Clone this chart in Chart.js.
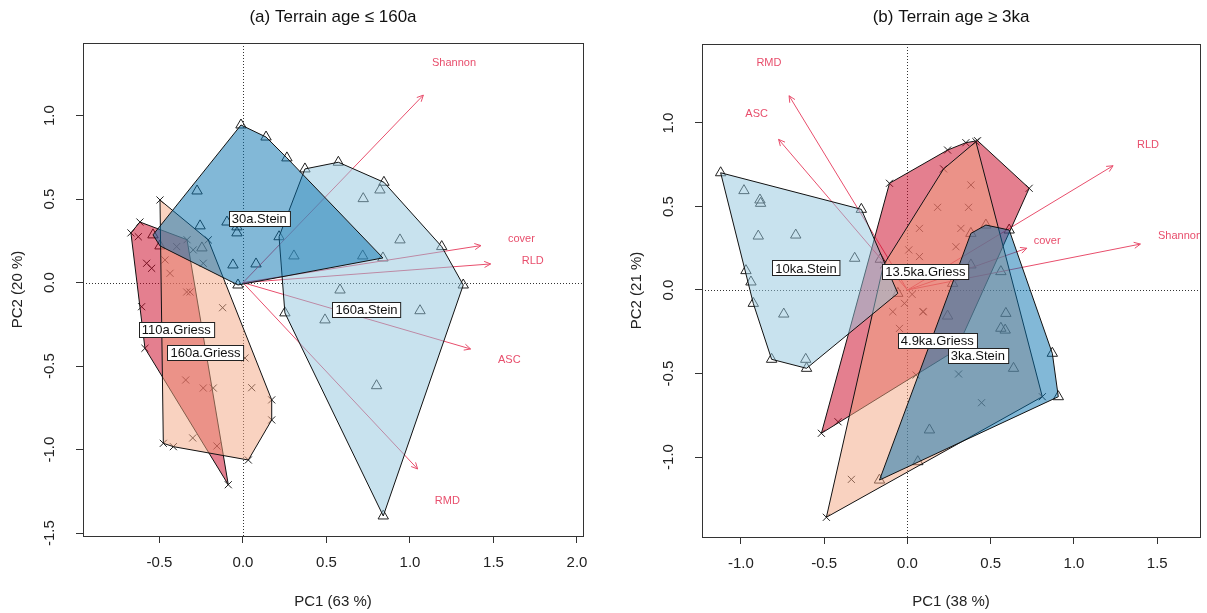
<!DOCTYPE html>
<html>
<head>
<meta charset="utf-8">
<script src="https://cdn.jsdelivr.net/npm/chart.js@4.4.1/dist/chart.umd.min.js"></script>
<style>
  body { margin: 0; background: #fff; width: 1207px; height: 613px; position: relative; overflow: hidden; }
  .panel { position: absolute; top: 0; height: 613px; }
</style>
</head>
<body>
<div class="panel" style="left:0;width:600px"><canvas id="panelA"></canvas></div>
<div class="panel" style="left:600px;width:607px"><canvas id="panelB"></canvas></div>
<script>
// ---- panel (a): terrain age <= 160a ----
const xTicksA = [-0.5, 0, 0.5, 1, 1.5, 2];
const yTicksA = [-1.5, -1, -0.5, 0, 0.5, 1];
const groupsA = ["110a.Griess", "160a.Griess", "160a.Stein", "30a.Stein"];
const a110Griess = [[-0.671, 0.298], [-0.617, 0.363], [-0.335, 0.257], [-0.088, -1.21], [-0.587, -0.393],
  [-0.607, -0.144], [-0.627, 0.275], [-0.577, 0.116], [-0.547, 0.086], [-0.397, 0.216], [-0.156, -0.978],
  [-0.343, -0.583]];
const a160Griess = [[-0.497, 0.495], [-0.208, 0.256], [0.172, -0.702], [0.172, -0.822], [0.032, -1.062],
  [-0.417, -0.982], [-0.477, -0.962], [-0.122, -0.15], [0.012, -0.451], [0.052, -0.629], [-0.178, -0.631],
  [-0.238, -0.631], [-0.317, -0.056], [-0.298, 0.196], [-0.238, 0.116], [-0.437, 0.056], [-0.467, 0.136],
  [-0.301, -0.93], [-0.337, -0.056]];
const a160Stein = [[0.371, 0.681], [0.571, 0.721], [0.844, 0.601], [1.19, 0.216], [1.319, -0.014],
  [0.84, -1.397], [0.251, -0.181], [0.216, 0.275], [0.82, 0.555], [0.72, 0.503], [0.94, 0.256],
  [0.717, 0.16], [0.581, -0.044], [1.06, -0.168], [0.491, -0.223], [0.8, -0.617]];
const a30Stein = [[-0.012, 0.944], [0.138, 0.872], [0.263, 0.747], [0.838, 0.148], [-0.03, -0.014],
  [-0.497, 0.22], [-0.539, 0.286], [-0.275, 0.549], [-0.257, 0.34], [-0.246, 0.208], [-0.096, 0.363],
  [-0.036, 0.334], [-0.036, 0.298], [-0.06, 0.106], [0.078, 0.112], [0.305, 0.16]];
const varsA = ["Shannon", "cover", "RLD", "ASC", "RMD"];
const loadXA = [1.08, 1.425, 1.483, 1.363, 1.046];
const loadYA = [1.123, 0.222, 0.112, -0.397, -1.116];

// ---- panel (b): terrain age >= 3ka ----
const xTicksB = [-1, -0.5, 0, 0.5, 1, 1.5];
const yTicksB = [-1, -0.5, 0, 0.5, 1];
const groupsB = ["13.5ka.Griess", "4.9ka.Griess", "10ka.Stein", "3ka.Stein"];
const b135Griess = [[-0.517, -0.858], [-0.108, 0.639], [0.241, 0.838], [0.351, 0.882], [0.421, 0.894],
  [0.731, 0.609], [0.293, -0.359], [0.381, 0.629], [0.181, 0.495], [0.367, 0.495], [0.072, 0.369],
  [0.321, 0.369], [0.008, 0.24], [-0.088, -0.13], [-0.417, -0.789], [0.092, -0.13], [-0.048, -0.23]];
const b49Griess = [[-0.487, -1.361], [-0.144, 0.15], [0.217, 0.725], [0.411, 0.888], [0.81, -0.639],
  [0.072, 0.2], [-0.018, -0.08], [0.028, -0.026], [0.096, -0.13], [-0.337, -1.134], [0.052, -0.509],
  [0.307, -0.503], [0.445, -0.675], [0.291, 0.259]];
const b10Stein = [[-1.122, 0.702], [-0.277, 0.483], [-0.163, 0.184], [-0.058, -0.02], [-0.606, -0.469],
  [-0.816, -0.415], [-0.982, 0.595], [-0.886, 0.539], [-0.882, 0.519], [-0.896, 0.323], [-0.671, 0.329],
  [-0.317, 0.19], [-0.97, 0.116], [-0.94, 0.048], [-0.926, -0.08], [-0.743, -0.144], [-0.611, -0.415]];
const b3Stein = [[-0.168, -1.138], [0.906, -0.639], [0.87, -0.379], [0.611, 0.359], [0.471, 0.389],
  [0.381, 0.339], [0.241, -0.156], [0.591, -0.14], [0.561, -0.229], [0.587, -0.24], [0.637, -0.469],
  [0.132, -0.838], [0.062, -1.028], [0.271, 0.04], [0.381, 0.15], [0.561, 0.11]];
const varsB = ["RMD", "ASC", "RLD", "cover", "Shannon"];
const loadXB = [-0.711, -0.774, 1.235, 0.717, 1.399];
const loadYB = [1.163, 0.902, 0.744, 0.25, 0.275];

const FONT = '"Liberation Sans", Arial, sans-serif';
const ARROW = "rgb(232,78,108)";
const LABEL_MULT = 1.17;   // where the variable names sit, relative to arrow tips
const fills = ["rgba(202,0,32,0.5)", "rgba(244,165,130,0.5)", "rgba(146,197,222,0.5)", "rgba(5,113,176,0.5)"];
const markers = ["crossRot", "crossRot", "triangle", "triangle"];

// convex hull (monotone chain), like ordihull
function hull(pts) {
  const p = pts.slice().sort((a, b) => a[0] - b[0] || a[1] - b[1]);
  const cross = (o, a, b) => (a[0] - o[0]) * (b[1] - o[1]) - (a[1] - o[1]) * (b[0] - o[0]);
  const lo = [], up = [];
  for (const q of p) {
    while (lo.length >= 2 && cross(lo[lo.length - 2], lo[lo.length - 1], q) <= 0) lo.pop();
    lo.push(q);
  }
  for (const q of p.slice().reverse()) {
    while (up.length >= 2 && cross(up[up.length - 2], up[up.length - 1], q) <= 0) up.pop();
    up.push(q);
  }
  lo.pop(); up.pop();
  return lo.concat(up);
}

// polygon centroid, used for the group labels
function centroid(poly) {
  let a = 0, cx = 0, cy = 0;
  for (let i = 0; i < poly.length; i++) {
    const [x0, y0] = poly[i], [x1, y1] = poly[(i + 1) % poly.length];
    const f = x0 * y1 - x1 * y0;
    a += f; cx += (x0 + x1) * f; cy += (y0 + y1) * f;
  }
  return [cx / (3 * a), cy / (3 * a)];
}

const rPlot = {
  id: "rplot",
  beforeDatasetsDraw(chart, args, o) {
    const { ctx, chartArea: a, scales: { x, y } } = chart;
    ctx.save();
    ctx.beginPath(); ctx.rect(a.left, a.top, a.width, a.height); ctx.clip();
    // dotted zero lines
    ctx.strokeStyle = "#333"; ctx.lineWidth = 1; ctx.setLineDash([1, 2]);
    const x0 = Math.round(x.getPixelForValue(0)) + 0.5, y0 = Math.round(y.getPixelForValue(0)) + 0.5;
    ctx.beginPath();
    ctx.moveTo(x0, a.top); ctx.lineTo(x0, a.bottom);
    ctx.moveTo(a.left, y0); ctx.lineTo(a.right, y0);
    ctx.stroke();
    ctx.setLineDash([]);
    // arrow heads and variable names
    ctx.strokeStyle = ARROW; ctx.fillStyle = ARROW;
    ctx.font = "11px " + FONT; ctx.textAlign = "center"; ctx.textBaseline = "middle";
    o.vars.forEach((name, i) => {
      const px = x.getPixelForValue(o.loadX[i]), py = y.getPixelForValue(o.loadY[i]);
      const ang = Math.atan2(py - y.getPixelForValue(0), px - x.getPixelForValue(0));
      const len = 7;
      ctx.beginPath();
      ctx.moveTo(px - len * Math.cos(ang - 0.45), py - len * Math.sin(ang - 0.45));
      ctx.lineTo(px, py);
      ctx.lineTo(px - len * Math.cos(ang + 0.45), py - len * Math.sin(ang + 0.45));
      ctx.stroke();
      ctx.fillText(name, x.getPixelForValue(o.loadX[i] * LABEL_MULT), y.getPixelForValue(o.loadY[i] * LABEL_MULT));
    });
    ctx.restore();
  },
  afterDatasetsDraw(chart, args, o) {
    const { ctx, scales: { x, y } } = chart;
    ctx.save();
    ctx.font = "13px " + FONT; ctx.textAlign = "center"; ctx.textBaseline = "middle";
    o.groups.forEach((name, i) => {
      const [cx, cy] = centroid(hull(o.points[i]));
      const px = x.getPixelForValue(cx), py = y.getPixelForValue(cy);
      const w = ctx.measureText(name).width + 6, h = 15;
      ctx.fillStyle = "#fff";
      ctx.fillRect(Math.round(px - w / 2) + 0.5, Math.round(py - h / 2) + 0.5, w, h);
      ctx.strokeStyle = "#222"; ctx.lineWidth = 1;
      ctx.strokeRect(Math.round(px - w / 2) + 0.5, Math.round(py - h / 2) + 0.5, w, h);
      ctx.fillStyle = "#111";
      ctx.fillText(name, px, py + 1);
    });
    ctx.restore();
  },
  afterDraw(chart, args, o) {
    const { ctx, chartArea: a, scales: { y } } = chart;
    ctx.save();
    ctx.strokeStyle = "#333"; ctx.lineWidth = 1;
    ctx.strokeRect(Math.round(a.left) + 0.5, Math.round(a.top) + 0.5, Math.round(a.width), Math.round(a.height));
    ctx.fillStyle = "#111"; ctx.textAlign = "center"; ctx.textBaseline = "middle";
    ctx.font = "17px " + FONT;
    ctx.fillText(o.title, (a.left + a.right) / 2, 17);
    // y tick labels, turned like R's las = 0
    ctx.font = "15px " + FONT; ctx.fillStyle = "#222";
    y.ticks.forEach(t => {
      ctx.save();
      ctx.translate(a.left - 33, y.getPixelForValue(t.value));
      ctx.rotate(-Math.PI / 2);
      ctx.fillText(t.value.toFixed(1), 0, 0);
      ctx.restore();
    });
    ctx.restore();
  }
};

function makePanel(id, p) {
  const datasets = [];
  p.groups.forEach((name, i) => {
    const pts = p.points[i];
    datasets.push({
      type: "scatter",
      data: pts.map(([x, y]) => ({ x, y })),
      pointStyle: markers[i],
      pointRadius: markers[i] === "triangle" ? 6 : 5,
      pointBorderColor: "#222",
      pointBackgroundColor: "rgba(0,0,0,0)",
      pointBorderWidth: 1,
      order: 10
    });
    const h = hull(pts);
    h.push(h[0]);
    datasets.push({
      type: "line",
      data: h.map(([x, y]) => ({ x, y })),
      borderColor: "#111",
      borderWidth: 1,
      backgroundColor: fills[i],
      fill: "shape",
      pointRadius: 0,
      tension: 0,
      order: 4 - i
    });
  });
  p.vars.forEach((v, i) => {
    datasets.push({
      type: "line",
      data: [{ x: 0, y: 0 }, { x: p.loadX[i], y: p.loadY[i] }],
      borderColor: ARROW,
      borderWidth: 1,
      pointRadius: 0,
      order: 9
    });
  });

  new Chart(document.getElementById(id), {
    type: "scatter",
    data: { datasets },
    plugins: [rPlot],
    options: {
      responsive: true,
      maintainAspectRatio: false,
      animation: false,
      events: [],
      layout: { padding: { left: p.padLeft, right: p.padRight, top: p.padTop, bottom: 0 } },
      plugins: {
        legend: { display: false },
        tooltip: { enabled: false },
        rplot: { title: p.title, vars: p.vars, loadX: p.loadX, loadY: p.loadY, groups: p.groups, points: p.points }
      },
      scales: {
        x: {
          type: "linear", min: p.xMin, max: p.xMax,
          afterBuildTicks: s => { s.ticks = p.xTicks.map(v => ({ value: v })); },
          afterFit: s => { s.height = p.xAxisHeight; },
          border: { display: false },
          grid: { drawOnChartArea: false, drawTicks: true, tickLength: 7, tickColor: "#333", tickWidth: 1 },
          ticks: { font: { size: 15, family: FONT }, color: "#222", padding: 11, autoSkip: false,
                   maxRotation: 0, minRotation: 0, callback: v => v.toFixed(1) },
          title: { display: true, text: p.xTitle, font: { size: 15, family: FONT }, color: "#222",
                   padding: { top: 0, bottom: 2 } }
        },
        y: {
          type: "linear", min: p.yMin, max: p.yMax,
          afterBuildTicks: s => { s.ticks = p.yTicks.map(v => ({ value: v })); },
          afterFit: s => { s.width = 83; },
          border: { display: false },
          grid: { drawOnChartArea: false, drawTicks: true, tickLength: 7, tickColor: "#333", tickWidth: 1 },
          ticks: { display: false },
          title: { display: true, text: p.yTitle, font: { size: 15, family: FONT }, color: "#222",
                   padding: { top: 9, bottom: 0 } }
        }
      }
    }
  });
}

makePanel("panelA", {
  title: "(a) Terrain age \u2264 160a", xTitle: "PC1 (63 %)", yTitle: "PC2 (20 %)",
  groups: groupsA, points: [a110Griess, a160Griess, a160Stein, a30Stein],
  vars: varsA, loadX: loadXA, loadY: loadYA,
  xTicks: xTicksA, yTicks: yTicksA,
  xMin: -0.958, xMax: 2.036, yMin: -1.517, yMax: 1.435,
  padLeft: 0, padRight: 17, padTop: 43, xAxisHeight: 77
});

makePanel("panelB", {
  title: "(b) Terrain age \u2265 3ka", xTitle: "PC1 (38 %)", yTitle: "PC2 (21 %)",
  groups: groupsB, points: [b135Griess, b49Griess, b10Stein, b3Stein],
  vars: varsB, loadX: loadXB, loadY: loadYB,
  xTicks: xTicksB, yTicks: yTicksB,
  xMin: -1.234, xMax: 1.757, yMin: -1.479, yMax: 1.473,
  padLeft: 19, padRight: 6, padTop: 44, xAxisHeight: 76
});
</script>
</body>
</html>
